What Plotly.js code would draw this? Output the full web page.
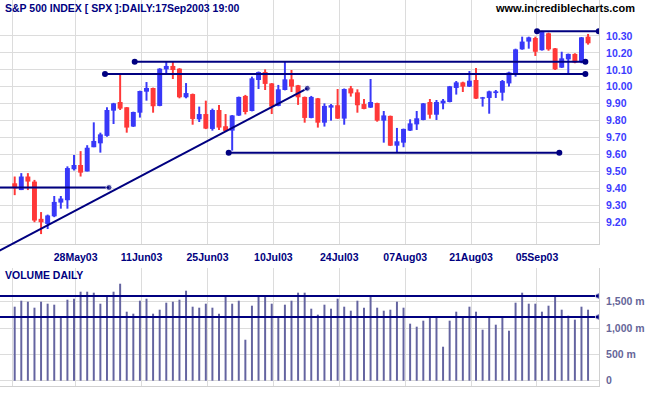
<!DOCTYPE html>
<html>
<head>
<meta charset="utf-8">
<script src="https://cdn.plot.ly/plotly-3.0.1.min.js"></script>
<style>html,body{margin:0;padding:0;background:#fff;}#chart{width:651px;height:395px;}</style>
</head>
<body>
<div id="chart"></div>
<script>
// ---- data ----
const dates = [
 "2003-05-14","2003-05-15","2003-05-16","2003-05-19","2003-05-20","2003-05-21","2003-05-22","2003-05-23","2003-05-27","2003-05-28","2003-05-29","2003-05-30",
 "2003-06-02","2003-06-03","2003-06-04","2003-06-05","2003-06-06","2003-06-09","2003-06-10","2003-06-11","2003-06-12","2003-06-13","2003-06-16","2003-06-17","2003-06-18","2003-06-19","2003-06-20","2003-06-23","2003-06-24","2003-06-25","2003-06-26","2003-06-27","2003-06-30",
 "2003-07-01","2003-07-02","2003-07-03","2003-07-07","2003-07-08","2003-07-09","2003-07-10","2003-07-11","2003-07-14","2003-07-15","2003-07-16","2003-07-17","2003-07-18","2003-07-21","2003-07-22","2003-07-23","2003-07-24","2003-07-25","2003-07-28","2003-07-29","2003-07-30","2003-07-31",
 "2003-08-01","2003-08-04","2003-08-05","2003-08-06","2003-08-07","2003-08-08","2003-08-11","2003-08-12","2003-08-13","2003-08-14","2003-08-15","2003-08-18","2003-08-19","2003-08-20","2003-08-21","2003-08-22","2003-08-25","2003-08-26","2003-08-27","2003-08-28","2003-08-29",
 "2003-09-02","2003-09-03","2003-09-04","2003-09-05","2003-09-08","2003-09-09","2003-09-10","2003-09-11","2003-09-12","2003-09-15","2003-09-16","2003-09-17"
];
const open = [9.43,9.39,9.47,9.44,9.22,9.19,9.235,9.316,9.33,9.513,9.538,9.50,9.643,9.666,9.71,9.859,9.91,9.879,9.765,9.847,9.971,9.993,9.887,10.103,10.123,10.107,9.938,9.957,9.808,9.839,9.751,9.863,9.767,9.741,9.83,9.946,9.857,10.04,10.087,10.02,9.887,9.981,10.044,10.009,9.94,9.816,9.932,9.788,9.877,9.891,9.812,9.991,9.967,9.898,9.877,9.904,9.80,9.828,9.652,9.67,9.741,9.778,9.804,9.91,9.835,9.902,9.91,9.993,10.026,10.001,10.04,9.93,9.934,9.963,9.965,10.02,10.07,10.221,10.267,10.288,10.216,10.316,10.227,10.113,10.162,10.194,10.146,10.296];
const high = [9.47,9.49,9.49,9.45,9.26,9.245,9.355,9.355,9.53,9.597,9.62,9.655,9.79,9.729,9.879,9.905,10.078,9.88,9.853,9.977,10.028,9.995,10.11,10.152,10.152,10.11,10.022,9.96,9.883,9.918,9.871,9.893,9.839,9.833,9.942,9.952,10.06,10.09,10.103,10.022,10.011,10.152,10.099,10.011,9.942,9.946,9.934,9.902,9.898,9.987,9.99,10.005,9.985,9.928,10.046,9.906,9.857,9.83,9.757,9.753,9.808,9.857,9.904,9.928,9.922,9.928,10.005,10.034,10.03,10.093,10.111,9.94,9.977,9.981,10.04,10.089,10.225,10.296,10.296,10.296,10.33,10.32,10.229,10.207,10.196,10.198,10.294,10.312];
const low = [9.36,9.39,9.39,9.20,9.13,9.16,9.23,9.28,9.28,9.505,9.47,9.50,9.643,9.611,9.705,9.78,9.863,9.729,9.763,9.818,9.918,9.847,9.885,10.074,10.046,9.932,9.932,9.776,9.792,9.75,9.741,9.745,9.737,9.623,9.828,9.837,9.855,9.987,9.981,9.839,9.885,9.979,9.969,9.893,9.788,9.814,9.759,9.765,9.80,9.81,9.776,9.942,9.847,9.867,9.875,9.794,9.67,9.65,9.611,9.643,9.739,9.745,9.802,9.812,9.804,9.867,9.908,9.954,9.969,9.999,9.928,9.883,9.841,9.934,9.918,10.001,10.06,10.219,10.225,10.182,10.214,10.213,10.099,10.111,10.08,10.139,10.139,10.249];
const close = [9.40,9.47,9.44,9.21,9.20,9.24,9.32,9.34,9.52,9.538,9.493,9.64,9.68,9.719,9.863,9.902,9.871,9.759,9.851,9.975,9.993,9.885,10.107,10.123,10.099,9.938,9.963,9.81,9.839,9.753,9.863,9.759,9.739,9.831,9.94,9.851,10.05,10.087,10.017,9.883,9.985,10.044,10.001,9.938,9.816,9.94,9.788,9.887,9.891,9.812,9.987,9.961,9.891,9.869,9.91,9.80,9.831,9.652,9.678,9.751,9.784,9.814,9.902,9.835,9.91,9.918,10.003,10.026,10.001,10.036,9.93,9.938,9.973,9.973,10.034,10.085,10.221,10.267,10.292,10.207,10.325,10.221,10.103,10.168,10.194,10.143,10.292,10.257];
const volume = [1407,1521,1502,1388,1502,1464,1445,1198,1540,1559,1692,1692,1673,1464,1616,1692,1844,1312,1274,1521,1559,1274,1350,1483,1502,1540,1711,1407,1388,1464,1388,1274,1597,1464,1521,779,1426,1597,1616,1464,1198,1445,1521,1673,1673,1369,1255,1445,
 1369,1559,1407,1331,1521,1388,1616,1388,1331,1350,1502,1388,1084,1027,1141,1217,1198,646,1141,1312,1217,1407,1312,970,1198,1065,1198,951,1483,1673,1464,1464,1312,1426,1597,1350,1236,1160,1407,1350];
const tickDates = ["2003-05-28","2003-06-11","2003-06-25","2003-07-10","2003-07-24","2003-08-07","2003-08-21","2003-09-05"];
const tickLabels = ["28May03","11Jun03","25Jun03","10Jul03","24Jul03","07Aug03","21Aug03","05Sep03"];
const priceTicks = [9.2,9.3,9.4,9.5,9.6,9.7,9.8,9.9,10.0,10.1,10.2,10.3];
const priceTickLabels = ["9.20","9.30","9.40","9.50","9.60","9.70","9.80","9.90","10.00","10.10","10.20","10.30"];
const volTicks = [0,500,1000,1500];
const volTickLabels = ["0","500 m","1,000 m","1,500 m"];
// drawn lines (bar-position units, price)
const levelPrice = [10.328, 10.148, 10.076, 9.61];
const levelFrom  = [79.26, 18.21, 13.70, 32.47];
const levelTo    = [88.62, 86.59, 86.59, 82.64];
const supportPrice = 9.405, supportFrom = -2.3, supportTo = 14.31;
const trendX = [-2.3, 44.4];
const trendY = [9.032, 9.991];
const volLevel = [1610, 1211];
const volLevelFrom = -2.3, volLevelTo = 88.56;

// ---- chart ----
const NAVY = '#000080', BLUE = '#3838f8', RED = '#ff3838', GRID = '#dcdcdc';
const FONT = 'Liberation Sans, Arial, sans-serif';
const idx = dates.map((d,i)=>i);
const up = close.map((c,i)=>c>=open[i]);
const colors = up.map(u=>u?BLUE:RED);
const tickIdx = tickDates.map(d=>dates.indexOf(d)+0.25);
const tv = [-0.3].concat(tickIdx), tt = [''].concat(tickLabels);

// pixel geometry of the price panel (plot area 386 px tall)
const priceRange = [9.0714, 10.5126];          // 244 px tall
const pxPerUnit = 244 / (priceRange[1]-priceRange[0]);
const extraPx = 8;                               // overlay panel reaches 8 px lower
const overlayRange = [priceRange[0] - extraPx/pxPerUnit, priceRange[1]];

const traces = [];
traces.push({type:'bar', x:idx, base:low, y:high.map((h,i)=>h-low[i]), width:0.3,
  marker:{color:colors, line:{width:0}}, xaxis:'x', yaxis:'y', hoverinfo:'skip'});
traces.push({type:'bar', x:idx, base:open.map((o,i)=>Math.min(o,close[i])),
  y:open.map((o,i)=>Math.max(Math.abs(close[i]-o),0.008)), width:0.75,
  marker:{color:colors, line:{width:0}}, xaxis:'x', yaxis:'y', hoverinfo:'skip'});
traces.push({type:'bar', x:idx, y:volume, width:0.3, marker:{color:'#6464a0', line:{width:0}},
  xaxis:'x2', yaxis:'y2', hoverinfo:'skip'});

const lineStyle = {color:NAVY, width:2};
const dot = {color:NAVY, size:6};
levelPrice.forEach((p,k)=>{
  traces.push({type:'scatter', mode:'lines+markers', x:[levelFrom[k],levelTo[k]], y:[p,p],
    line:lineStyle, marker:dot, xaxis:'x', yaxis:'y', hoverinfo:'skip'});
});
traces.push({type:'scatter', mode:'lines+markers', x:[supportFrom,supportTo], y:[supportPrice,supportPrice],
  line:lineStyle, marker:{color:NAVY,size:[0,6]}, xaxis:'x', yaxis:'y', hoverinfo:'skip'});
traces.push({type:'scatter', mode:'lines+markers', x:trendX, y:trendY,
  line:lineStyle, marker:{color:NAVY,size:[0,6]}, xaxis:'x3', yaxis:'y3', hoverinfo:'skip'});
volLevel.forEach(v=>{
  traces.push({type:'scatter', mode:'lines+markers', x:[volLevelFrom,volLevelTo], y:[v,v],
    line:lineStyle, marker:{color:NAVY,size:[0,6]}, xaxis:'x2', yaxis:'y2', hoverinfo:'skip'});
});

const xr = [-2.23, 88.66];
const layout = {
  width:651, height:395, margin:{l:0,r:52,t:0,b:9},
  paper_bgcolor:'#ffffff', plot_bgcolor:'rgba(0,0,0,0)', showlegend:false, barmode:'overlay',
  xaxis:{anchor:'y', domain:[0,1], range:xr, tickmode:'array', tickvals:tv, ticktext:tt,
    showgrid:true, gridcolor:GRID, gridwidth:1, zeroline:false, ticks:'outside', ticklen:3,
    tickcolor:'rgba(0,0,0,0)', tickfont:{family:FONT, size:10.5, color:NAVY, weight:700},
    showline:true, linecolor:'#d0d0d0', linewidth:1, fixedrange:true},
  yaxis:{anchor:'x', domain:[(386-244)/386,1], range:priceRange, side:'right', tickmode:'array',
    tickvals:priceTicks, ticktext:priceTickLabels, showgrid:true, gridcolor:GRID, gridwidth:1,
    zeroline:false, ticks:'outside', ticklen:4, tickcolor:'rgba(0,0,0,0)',
    tickfont:{family:FONT, size:10.5, color:'#3c3cff', weight:700},
    showline:true, linecolor:'#d0d0d0', linewidth:1, fixedrange:true},
  xaxis3:{anchor:'y3', domain:[0,1], range:xr, visible:false, fixedrange:true},
  yaxis3:{anchor:'x3', domain:[(386-244-extraPx)/386,1], range:overlayRange, visible:false, fixedrange:true},
  xaxis2:{anchor:'y2', domain:[0,1], range:xr, tickmode:'array', tickvals:tv, ticktext:tt,
    showticklabels:false, showgrid:true, gridcolor:GRID, gridwidth:1, zeroline:false,
    showline:true, linecolor:'#d0d0d0', linewidth:1, fixedrange:true},
  yaxis2:{anchor:'x2', domain:[0,0.3057], range:[-100.8,2142.6], side:'right', tickmode:'array',
    tickvals:volTicks, ticktext:volTickLabels, showgrid:true, gridcolor:GRID, gridwidth:1,
    zeroline:false, ticks:'outside', ticklen:4, tickcolor:'rgba(0,0,0,0)',
    tickfont:{family:FONT, size:10.5, color:'#666699', weight:700},
    showline:true, linecolor:'#d0d0d0', linewidth:1, fixedrange:true},
  annotations:[
    {xref:'paper', yref:'paper', x:3/599, y:(386-8.5)/386, xanchor:'left', yanchor:'middle', showarrow:false,
     text:'S&amp;P 500 INDEX [ SPX ]:DAILY:17Sep2003 19:00', font:{family:FONT, size:10.5, color:NAVY, weight:700}},
    {xref:'paper', yref:'paper', x:637/599, y:(386-8.5)/386, xanchor:'right', yanchor:'middle', showarrow:false,
     text:'www.incrediblecharts.com', font:{family:FONT, size:11, color:'#000000', weight:700}},
    {xref:'paper', yref:'paper', x:3/599, y:(386-274.7)/386, xanchor:'left', yanchor:'middle', showarrow:false,
     text:'VOLUME DAILY', font:{family:FONT, size:10.5, color:NAVY, weight:700}}
  ]
};
Plotly.newPlot('chart', traces, layout, {displayModeBar:false, staticPlot:true});
</script>
</body>
</html>
